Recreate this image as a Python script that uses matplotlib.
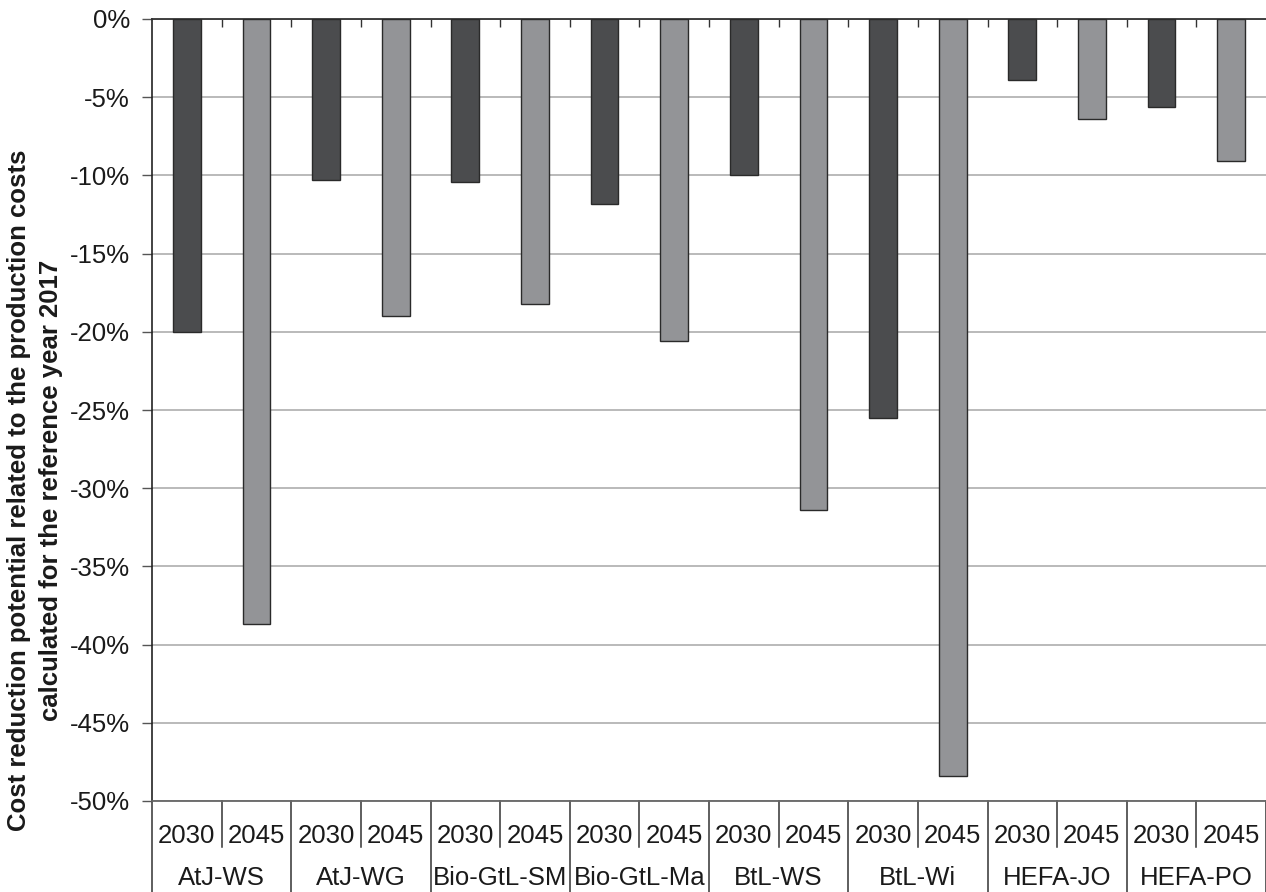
import numpy as np
import matplotlib.pyplot as plt
from matplotlib.ticker import FuncFormatter
import matplotlib.transforms as mtransforms

plt.rcParams['font.family'] = ['Liberation Sans', 'DejaVu Sans']

# values (percent change vs 2017)
pathways = ['AtJ-WS', 'AtJ-WG', 'Bio-GtL-SM', 'Bio-GtL-Ma',
            'BtL-WS', 'BtL-Wi', 'HEFA-JO', 'HEFA-PO']
years = ['2030', '2045']
red_2030 = [-20.0, -10.3, -10.4, -11.8, -10.0, -25.5, -3.9, -5.6]
red_2045 = [-38.7, -19.0, -18.2, -20.6, -31.4, -48.4, -6.4, -9.1]

c_dark = '#4b4c4e'
c_light = '#939497'

fig = plt.figure(figsize=(12.66, 8.92), dpi=100)
ax = fig.add_axes([152/1266, 91/892, 1 - 152/1266, 782/892])

n = len(pathways)
x30 = np.arange(n) * 2 + 0.5
x45 = np.arange(n) * 2 + 1.5
ax.bar(x30, red_2030, width=0.4, color=c_dark, edgecolor='#2a2a2a', linewidth=1, zorder=3)
ax.bar(x45, red_2045, width=0.4, color=c_light, edgecolor='#2a2a2a', linewidth=1, zorder=3)

ax.set_xlim(0, 2 * n)
ax.set_ylim(-50, 0)
ax.set_yticks(np.arange(-50, 1, 5))
ax.yaxis.set_major_formatter(FuncFormatter(lambda v, p: '%d%%' % v))
ax.yaxis.grid(True, color='#b4b4b4', linewidth=1.3, zorder=0)
ax.tick_params(axis='y', direction='out', length=7, width=1, color='#555555',
               labelsize=18.5, pad=9, labelcolor='#1a1a1a')

# x axis line at zero with tick marks between the bars
ax.set_xticks(np.arange(1, 2 * n))
ax.tick_params(axis='x', top=True, bottom=False, labeltop=False, labelbottom=False,
               direction='in', length=6, width=1, color='#333333')
ax.spines['right'].set_visible(False)
ax.spines['top'].set_color('#333333')
ax.spines['top'].set_linewidth(1.3)
ax.spines['left'].set_color('#222222')
ax.spines['left'].set_linewidth(1.2)
ax.spines['bottom'].set_color('#666666')
ax.spines['bottom'].set_linewidth(1.3)

# category table under the plot
trans = mtransforms.blended_transform_factory(ax.transData, ax.transAxes)
y_mid = -(46 / 782)
y_end = -(92 / 782)
for i in range(2 * n + 1):
    y2 = y_end if i % 2 == 0 else y_mid
    ax.plot([i, i], [0, y2], transform=trans, color='#333333', lw=1.1,
            clip_on=False)
for i in range(n):
    ax.text(x30[i], -35 / 782, years[0], transform=trans, ha='center',
            va='center', fontsize=18.5, color='#1a1a1a')
    ax.text(x45[i], -35 / 782, years[1], transform=trans, ha='center',
            va='center', fontsize=18.5, color='#1a1a1a')
    ax.text(i * 2 + 1, -77 / 782, pathways[i], transform=trans, ha='center',
            va='center', fontsize=18.5, color='#1a1a1a')

fig.text(35 / 1266, 1 - 490 / 892,
         'Cost reduction potential related to the production costs\n'
         'calculated for the reference year 2017',
         rotation=90, ha='center', va='center', ma='center',
         linespacing=1.45, fontsize=18.5, fontweight='bold', color='#1a1a1a')

fig.savefig('out.png', dpi=100)
